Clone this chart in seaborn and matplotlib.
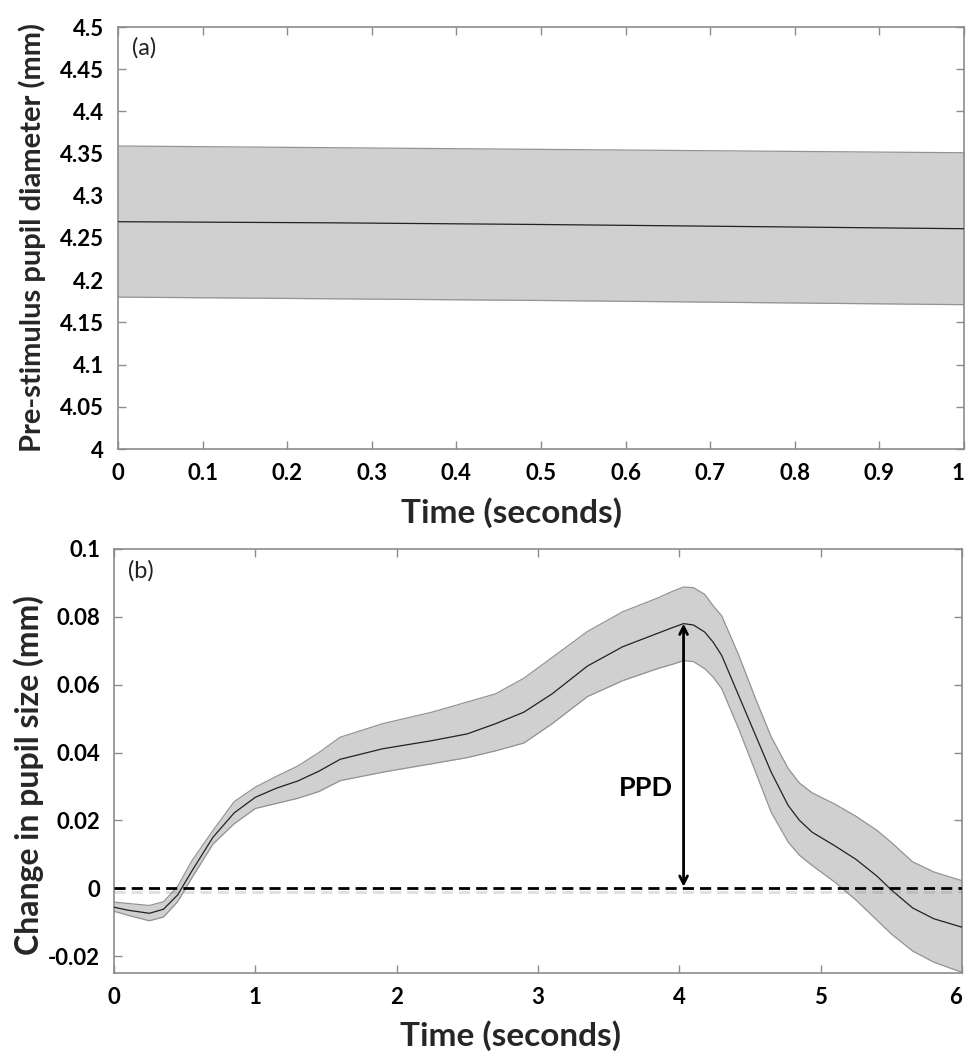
import numpy as np
import pandas as pd
import matplotlib
matplotlib.use("Agg")
import matplotlib.pyplot as plt
import matplotlib.patheffects as pe
import seaborn as sns

# ---------------- data ----------------
# Panel (a): pre-stimulus pupil diameter
t_a = [0.0, 0.25, 0.5, 0.75, 1.0]
mean_a = [4.2693, 4.2680, 4.2660, 4.2635, 4.2610]
upper_a = [4.359, 4.357, 4.355, 4.353, 4.351]
lower_a = [4.180, 4.178, 4.176, 4.1735, 4.171]

# Panel (b): change in pupil size
t_b = [0.0, 0.1, 0.25, 0.35, 0.45, 0.55, 0.7, 0.85, 1.0, 1.15,
       1.3, 1.45, 1.6, 1.9, 2.25, 2.5, 2.7, 2.9, 3.1, 3.35,
       3.6, 3.85, 3.95, 4.03, 4.1, 4.18, 4.24, 4.3, 4.42, 4.54,
       4.65, 4.77, 4.85, 4.94, 5.1, 5.25, 5.4, 5.5, 5.65, 5.8, 6.0]
mean_b = [-0.0056, -0.0065, -0.0074, -0.0062, -0.0020, 0.0050, 0.0150, 0.0222, 0.0268, 0.0295,
          0.0316, 0.0345, 0.0380, 0.0411, 0.0435, 0.0455, 0.0485, 0.0519, 0.0573, 0.0655,
          0.0712, 0.0752, 0.0768, 0.0780, 0.0776, 0.0755, 0.0725, 0.0686, 0.0568, 0.0450,
          0.0342, 0.0244, 0.0200, 0.0165, 0.0125, 0.0085, 0.0035, -0.0005, -0.0058, -0.0090, -0.0115]
upper_b = [-0.0041, -0.0045, -0.0051, -0.0040, 0.0005, 0.0080, 0.0170, 0.0255, 0.0298, 0.0330,
           0.0360, 0.0400, 0.0445, 0.0485, 0.0519, 0.0549, 0.0573, 0.0619, 0.0680, 0.0757,
           0.0815, 0.0856, 0.0875, 0.0888, 0.0886, 0.0866, 0.0832, 0.0803, 0.0687, 0.0558,
           0.0446, 0.0353, 0.0310, 0.0281, 0.0248, 0.0212, 0.0170, 0.0135, 0.0078, 0.0048, 0.0022]
lower_b = [-0.0068, -0.0080, -0.0096, -0.0085, -0.0040, 0.0030, 0.0130, 0.0190, 0.0235, 0.0250,
           0.0265, 0.0285, 0.0317, 0.0342, 0.0367, 0.0385, 0.0405, 0.0428, 0.0485, 0.0565,
           0.0612, 0.0648, 0.0660, 0.0671, 0.0668, 0.0647, 0.0622, 0.0588, 0.0470, 0.0342,
           0.0224, 0.0136, 0.0097, 0.0067, 0.0018, -0.0035, -0.0095, -0.0135, -0.0185, -0.0218, -0.0248]

ppd_time = 4.03
ppd_value = 0.078

xticks_a = [0, 0.1, 0.2, 0.3, 0.4, 0.5, 0.6, 0.7, 0.8, 0.9, 1]
xticklabels_a = ["0", "0.1", "0.2", "0.3", "0.4", "0.5", "0.6", "0.7", "0.8", "0.9", "1"]
yticks_a = [4, 4.05, 4.1, 4.15, 4.2, 4.25, 4.3, 4.35, 4.4, 4.45, 4.5]
yticklabels_a = ["4", "4.05", "4.1", "4.15", "4.2", "4.25", "4.3", "4.35", "4.4", "4.45", "4.5"]
xticks_b = [0, 1, 2, 3, 4, 5, 6]
xticklabels_b = ["0", "1", "2", "3", "4", "5", "6"]
yticks_b = [-0.02, 0, 0.02, 0.04, 0.06, 0.08, 0.1]
yticklabels_b = ["-0.02", "0", "0.02", "0.04", "0.06", "0.08", "0.1"]

# ---------------- style ----------------
sns.set_theme(style="white")
plt.rcParams['font.family'] = ['Lato', 'DejaVu Sans']

W, H = 968, 1054
fig = plt.figure(figsize=(W / 100, H / 100), dpi=100)

ax_a = fig.add_axes([118 / W, 1 - 449 / H, (964 - 118) / W, (449 - 27) / H])
ax_b = fig.add_axes([114 / W, 1 - 973 / H, (962 - 114) / W, (973 - 549) / H])

band_color = "#d0d0d0"
edge_color = "#939393"
spine_color = "#8c8c8c"

df_a = pd.DataFrame({"t": t_a, "m": mean_a, "u": upper_a, "l": lower_a})
df_b = pd.DataFrame({"t": t_b, "m": mean_b, "u": upper_b, "l": lower_b})

for ax, df in ((ax_a, df_a), (ax_b, df_b)):
    ax.fill_between(df["t"], df["l"], df["u"], color=band_color, linewidth=0, zorder=1)
    sns.lineplot(data=df, x="t", y="u", ax=ax, color=edge_color, linewidth=0.9, zorder=2)
    sns.lineplot(data=df, x="t", y="l", ax=ax, color=edge_color, linewidth=0.9, zorder=2)
    sns.lineplot(data=df, x="t", y="m", ax=ax, color="#222222", linewidth=0.9, zorder=3)
    for ln in ax.get_lines():
        ln.set_solid_joinstyle("round")

# Panel a
ax_a.set_xlim(0, 1)
ax_a.set_ylim(4, 4.5)
ax_a.set_xticks(xticks_a)
ax_a.set_xticklabels(xticklabels_a)
ax_a.set_yticks(yticks_a)
ax_a.set_yticklabels(yticklabels_a)
ax_a.set_xlabel("Time (seconds)", fontsize=24, fontweight="bold")
ax_a.xaxis.set_label_coords(0.465, -0.115)
ax_a.set_ylabel("Pre-stimulus pupil diameter (mm)", fontsize=21, fontweight="bold")
ax_a.yaxis.set_label_coords(-0.085, 0.5)
ax_a.text(0.016, 0.975, "(a)", transform=ax_a.transAxes, fontsize=17,
          ha="left", va="top", color="#222222")

# Panel b
ax_b.set_xlim(0, 6)
ax_b.set_ylim(-0.025, 0.1)
ax_b.set_xticks(xticks_b)
ax_b.set_xticklabels(xticklabels_b)
ax_b.set_yticks(yticks_b)
ax_b.set_yticklabels(yticklabels_b)
ax_b.set_xlabel("Time (seconds)", fontsize=24, fontweight="bold")
ax_b.xaxis.set_label_coords(0.468, -0.112)
ax_b.set_ylabel("Change in pupil size (mm)", fontsize=23, fontweight="bold")
ax_b.yaxis.set_label_coords(-0.082, 0.467)
ax_b.text(0.016, 0.975, "(b)", transform=ax_b.transAxes, fontsize=17,
          ha="left", va="top", color="#222222")

zero = ax_b.axhline(0, color="black", linewidth=2.0, linestyle=(0, (4, 2.2)), zorder=4)
zero.set_path_effects([pe.SimpleLineShadow(offset=(0, -2.5), alpha=0.25, shadow_color="gray"),
                       pe.Normal()])

ax_b.annotate("", xy=(ppd_time, ppd_value), xytext=(ppd_time, 0),
              arrowprops=dict(arrowstyle="<->", color="black", lw=2.0,
                              shrinkA=1, shrinkB=0, mutation_scale=14), zorder=5)
ax_b.text(ppd_time - 0.075, 0.0295, "PPD", fontsize=19.5, fontweight="bold",
          ha="right", va="center", color="black")

for ax in (ax_a, ax_b):
    for s in ax.spines.values():
        s.set_visible(True)
        s.set_color(spine_color)
        s.set_linewidth(1.2)
    ax.tick_params(direction="in", length=6, width=1, color=spine_color,
                   top=True, right=True, left=True, bottom=True,
                   labelsize=16, pad=10, labelcolor="black")
    for lab in ax.get_xticklabels() + ax.get_yticklabels():
        lab.set_fontweight("bold")
    ax.get_xticklabels()[-1].set_horizontalalignment("right")
    ax.set_facecolor("white")

fig.savefig("out.png", dpi=100, facecolor="white")
